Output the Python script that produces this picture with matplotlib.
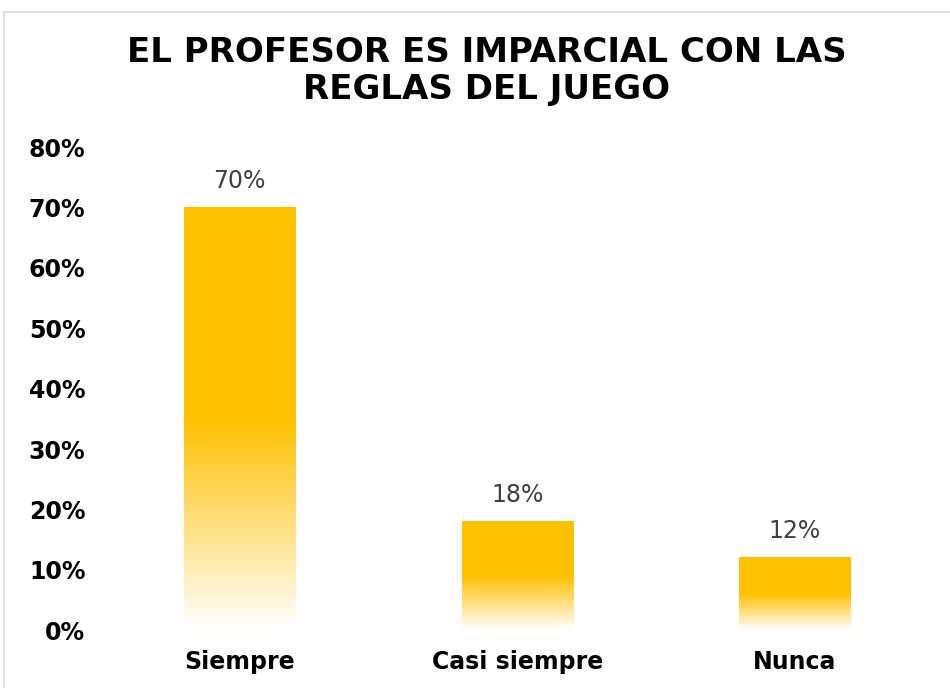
import matplotlib
matplotlib.use("Agg")
import matplotlib.pyplot as plt
import numpy as np
from matplotlib.colors import LinearSegmentedColormap
from matplotlib.patches import Rectangle

categories = ["Siempre", "Casi siempre", "Nunca"]
values = [70, 18, 12]
labels = ["70%", "18%", "12%"]
title = "EL PROFESOR ES IMPARCIAL CON LAS\nREGLAS DEL JUEGO"

gold = "#FFC000"
fade = LinearSegmentedColormap.from_list(
    "fade", [(0.0, (1, 1, 1, 1)), (0.5, (1, 0.753, 0, 1)), (1.0, (1, 0.753, 0, 1))])

fig = plt.figure(figsize=(9.5, 6.88), dpi=100)
fig.patch.set_facecolor("white")
fig.add_artist(Rectangle((0.004, -0.01), 1.2, 0.992, transform=fig.transFigure,
                         fill=False, edgecolor="#d9d9d9", linewidth=1.2))

ax = fig.add_axes([0.106, 0.084, 0.877, 0.702])
x = np.arange(len(categories))
width = 0.4
bars = ax.bar(x, values, width=width, color="none", edgecolor="none")
grad = np.linspace(0, 1, 256).reshape(-1, 1)
for b in bars:
    x0, h = b.get_x(), b.get_height()
    ax.imshow(grad, cmap=fade, origin="lower", aspect="auto",
              extent=(x0, x0 + b.get_width(), 0, h), zorder=2)

for xi, v, lab in zip(x, values, labels):
    ax.text(xi, v + 2.4, lab, ha="center", va="bottom", fontsize=17,
            color="#404040")

ax.set_xlim(-0.5, 2.5)
ax.set_ylim(0, 80)
ax.set_yticks(np.arange(0, 81, 10))
ax.set_yticklabels([f"{t}%" for t in range(0, 81, 10)], fontsize=17,
                   fontweight="bold")
ax.set_xticks(x)
ax.set_xticklabels(categories, fontsize=17, fontweight="bold")
ax.tick_params(length=0, pad=14)
ax.tick_params(axis="y", pad=11)
for s in ax.spines.values():
    s.set_visible(False)

fig.text(0.512, 0.897, title, ha="center", va="center", fontsize=24.5,
         fontweight="bold", linespacing=1.17)

fig.savefig("out.png", dpi=100)
